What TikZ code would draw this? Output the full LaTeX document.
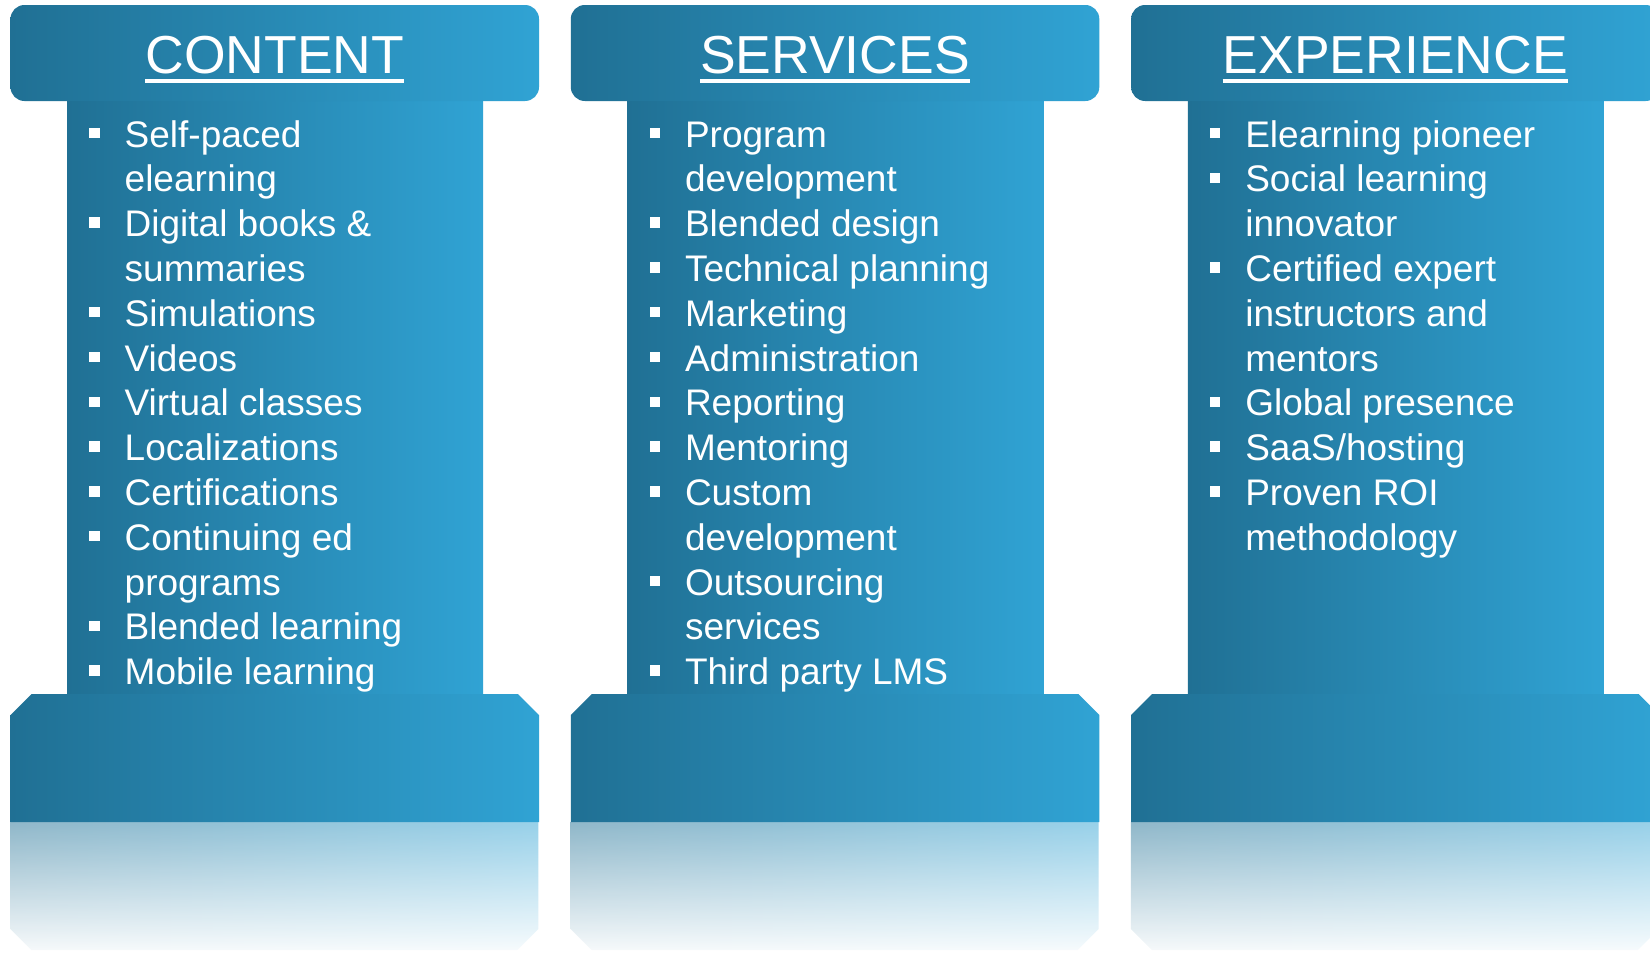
\documentclass[tikz,border=0pt]{standalone}
\usepackage{fontspec}
\setmainfont{Liberation Sans}
\usetikzlibrary{fadings}
\definecolor{pA}{RGB}{32,112,148}
\definecolor{pM}{RGB}{42,146,194}
\definecolor{pB}{RGB}{48,163,212}
\tikzfading[name=reflfade, top color=transparent!50, middle color=transparent!74, bottom color=transparent!96]
\tikzset{
  pillarfill/.style={left color=pA, middle color=pM, right color=pB, draw=none},
  headtext/.style={text=white, inner sep=0pt, anchor=base, font=\fontsize{53.5}{60}\selectfont},
  itemtext/.style={text=white, inner sep=0pt, anchor=base west, font=\fontsize{37}{44.8}\selectfont},
  bulletbox/.style={fill=white, draw=none, inner sep=0pt, minimum size=10.5pt, rectangle},
  ulines/.style={white, line width=3.4pt}
}
\begin{document}
\begin{tikzpicture}[x=1pt, y=-1pt]
\useasboundingbox (0,0) rectangle (1650,953);
\fill[white] (0,0) rectangle (1650,953);
% pillar shapes
\foreach \L in {10.5, 570.8, 1131.1} {
  % shaft
  \shade[pillarfill] ({\L+56.8},98) rectangle ({\L+472.5},696);
  % cap
  \shade[pillarfill, rounded corners=14pt] (\L,5) rectangle ({\L+528.5},101);
  % base
  \shade[pillarfill] (\L,822) -- (\L,715) -- ({\L+21},694) -- ({\L+507.5},694)
        -- ({\L+528.5},715) -- ({\L+528.5},822) -- cycle;
  % reflection
  \shade[pillarfill, path fading=reflfade] (\L,822) -- (\L,929) -- ({\L+21},950)
        -- ({\L+507.5},950) -- ({\L+528.5},929) -- ({\L+528.5},822) -- cycle;
}
% headings
\node[headtext] (h1) at (274.75,73.5) {CONTENT};
\node[headtext] (h2) at (835.05,73.5) {SERVICES};
\node[headtext] (h3) at (1395.35,73.5) {EXPERIENCE};
\foreach \h in {h1,h2,h3} {
  \draw[ulines] ([yshift=-7.5pt]\h.base west) -- ([yshift=-7.5pt]\h.base east);
}
% column 1
\foreach \t [count=\i] in {Self-paced, elearning, Digital books \&, summaries, Simulations, Videos, Virtual classes, Localizations, Certifications, Continuing ed, programs, Blended learning, Mobile learning} {
  \node[itemtext] (a\i) at (124.5, {147+44.8*(\i-1)}) {\t};
}
\foreach \i in {1,3,5,6,7,8,9,10,12,13} {
  \node[bulletbox] (ab\i) at (94.5, {133+44.8*(\i-1)}) {};
}
% column 2
\foreach \t [count=\i] in {Program, development, Blended design, Technical planning, Marketing, Administration, Reporting, Mentoring, Custom, development, Outsourcing, services, Third party LMS} {
  \node[itemtext] (b\i) at (684.8, {147+44.8*(\i-1)}) {\t};
}
\foreach \i in {1,3,4,5,6,7,8,9,11,13} {
  \node[bulletbox] (bb\i) at (654.8, {133+44.8*(\i-1)}) {};
}
% column 3
\foreach \t [count=\i] in {Elearning pioneer, Social learning, innovator, Certified expert, instructors and, mentors, Global presence, SaaS/hosting, Proven ROI, methodology} {
  \node[itemtext] (c\i) at (1245.1, {147+44.8*(\i-1)}) {\t};
}
\foreach \i in {1,2,4,7,8,9} {
  \node[bulletbox] (cb\i) at (1215.1, {133+44.8*(\i-1)}) {};
}
\end{tikzpicture}
\end{document}
